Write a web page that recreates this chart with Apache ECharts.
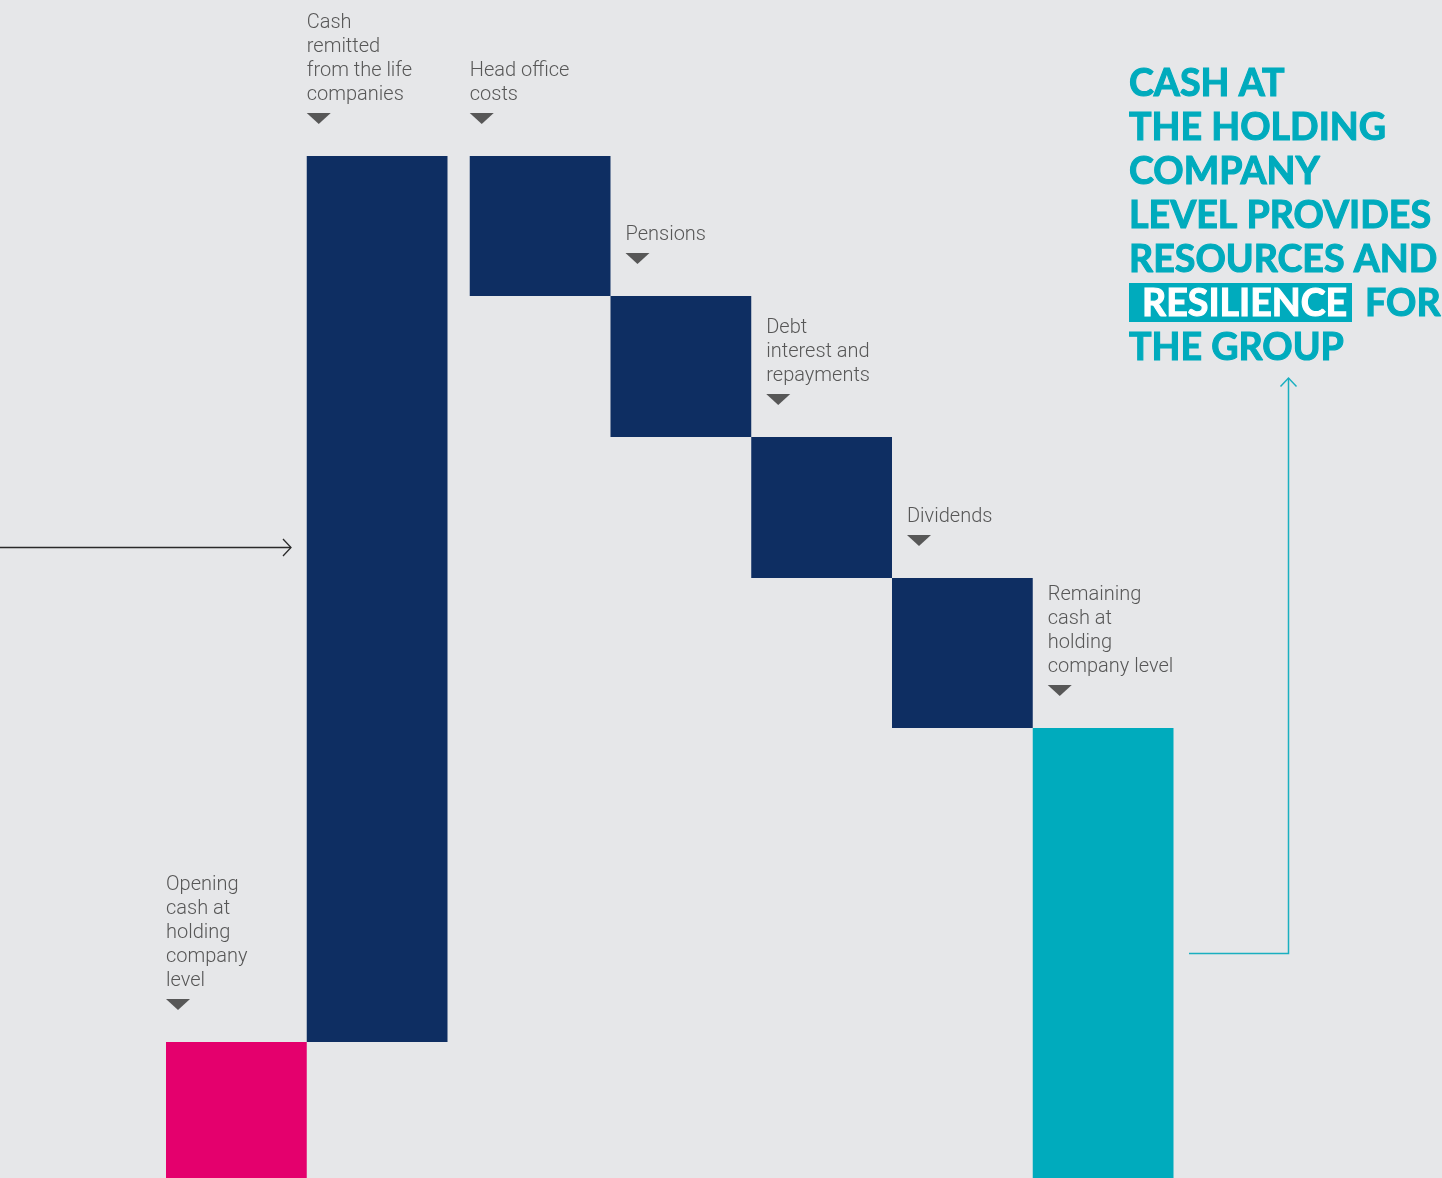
<!DOCTYPE html>
<html>
<head>
<meta charset="utf-8">
<script src="https://cdn.jsdelivr.net/npm/echarts@6/dist/echarts.min.js"></script>
<style>
  html, body { margin: 0; padding: 0; background: #e6e7e9; }
  #chart { width: 1442px; height: 1178px; }
</style>
</head>
<body>
<div id="chart"></div>
<script>
// ---- data (relative units; illustrative waterfall) ----
const categories = [
  'Opening\ncash at\nholding\ncompany\nlevel',
  'Cash\nremitted\nfrom the life\ncompanies',
  'Head office\ncosts',
  'Pensions',
  'Debt\ninterest and\nrepayments',
  'Dividends',
  'Remaining\ncash at\nholding\ncompany level'
];
const changes = [136, 886, -140, -141, -141, -150];   // opening + movements
const barKinds = ['opening', 'inflow', 'outflow', 'outflow', 'outflow', 'outflow', 'closing'];
const headingLines = ['CASH AT', 'THE HOLDING', 'COMPANY', 'LEVEL PROVIDES', 'RESOURCES AND', '', 'THE GROUP'];

// ---- build waterfall from data ----
const colors = { opening: '#e4006d', inflow: '#0e2e62', outflow: '#0e2e62', closing: '#00abbd' };
const GAP = 0.158; // visual gap after second bar (axis units)
let running = 0;
const seriesData = [];
changes.forEach((d, i) => {
  const start = (i === 0) ? 0 : running;
  running += d;
  seriesData.push([i, start, running]);
});
seriesData.push([categories.length - 1, 0, running]);

function xLeft(i) { return i + (i >= 2 ? GAP : 0); }
// labels of bars that hang from the previous bar's corner are nudged right
function labelShift(i) { return i >= 3 ? 15 : 0; }

const labelFont = { fontFamily: 'Roboto, "Helvetica Neue", Arial, sans-serif', fontWeight: 300, fontSize: 20 };

const chart = echarts.init(document.getElementById('chart'), null, { renderer: 'canvas' });

const headingFont = 'bold 37.6px Lato, "Open Sans", sans-serif';
const teal = '#00abbd';
const graphics = [];
function headText(t, x, i, fill) {
  return { type: 'text', x: x, y: 83.5 + 44 * i,
    style: { text: t, font: headingFont, fill: fill, stroke: fill, lineWidth: 1.1,
             textVerticalAlign: 'middle', verticalAlign: 'middle' } };
}
headingLines.forEach((t, i) => { if (t) graphics.push(headText(t, 1129, i, teal)); });
graphics.push({ type: 'rect', shape: { x: 1129, y: 283, width: 223, height: 39 }, style: { fill: teal } });
graphics.push(headText('RESILIENCE', 1142, 5, '#ffffff'));
graphics.push(headText('FOR', 1365, 5, teal));
// left arrow
graphics.push({ type: 'polyline', shape: { points: [[0, 547.5], [291, 547.5]] }, style: { stroke: '#2a2a2a', lineWidth: 1.3, fill: null } });
graphics.push({ type: 'polyline', shape: { points: [[283, 539], [291, 547.5], [283, 556]] }, style: { stroke: '#2a2a2a', lineWidth: 1.3, fill: null } });
// right arrow
graphics.push({ type: 'polyline', shape: { points: [[1189, 953.5], [1288.5, 953.5], [1288.5, 378]] }, style: { stroke: '#1aafc0', lineWidth: 1.5, fill: null } });
graphics.push({ type: 'polyline', shape: { points: [[1280.5, 386.5], [1288.5, 378], [1296.5, 386.5]] }, style: { stroke: '#1aafc0', lineWidth: 1.5, fill: null } });

const option = {
  backgroundColor: '#e6e7e9',
  animation: false,
  grid: { left: 166, right: 268.5, top: 0, bottom: 0 },
  xAxis: { type: 'value', min: 0, max: categories.length + GAP, show: false },
  yAxis: { type: 'value', min: 0, max: 1178, show: false },
  series: [{
    type: 'custom',
    data: seriesData,
    clip: false,
    renderItem: function (params, api) {
      const i = api.value(0);
      const a = api.value(1), b = api.value(2);
      const p0 = api.coord([xLeft(i), Math.max(a, b)]);
      const p1 = api.coord([xLeft(i) + 1, Math.min(a, b)]);
      const left = p0[0], top = p0[1];
      const lx = left + labelShift(i);
      return {
        type: 'group',
        children: [
          { type: 'rect', shape: { x: left, y: top, width: p1[0] - left, height: p1[1] - top },
            style: { fill: colors[barKinds[i]] } },
          { type: 'polygon', shape: { points: [[lx, top - 43], [lx + 24, top - 43], [lx + 12, top - 32]] },
            style: { fill: '#575757' } },
          { type: 'text', x: lx, y: top - 49,
            style: Object.assign({ text: categories[i], fill: '#575757', lineHeight: 24,
              align: 'left', verticalAlign: 'bottom' }, labelFont) }
        ]
      };
    }
  }],
  graphic: graphics
};
chart.setOption(option);
</script>
</body>
</html>
